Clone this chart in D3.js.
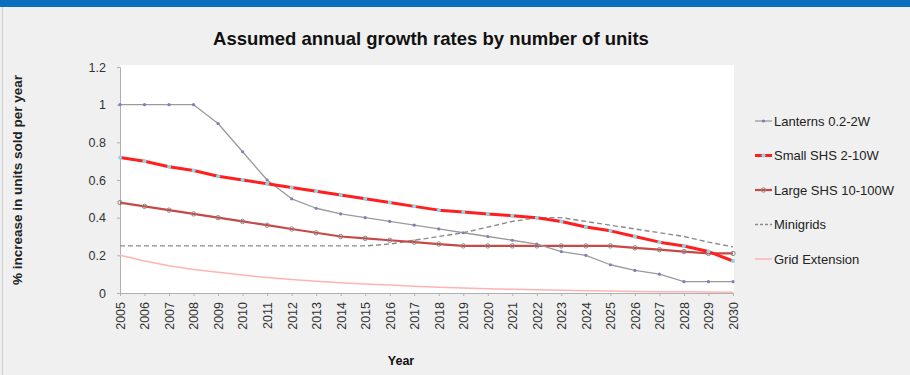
<!DOCTYPE html>
<html><head><meta charset="utf-8">
<script src="https://cdn.jsdelivr.net/npm/d3@7"></script>
<style>
html,body{margin:0;padding:0;background:#f0f0f0;}
svg{display:block;font-family:"Liberation Sans",Arial,Helvetica,sans-serif;}
</style></head>
<body><svg id="c" width="910" height="375"></svg>
<script>
const years = d3.range(2005, 2031);
const lanterns = [1,1,1,1,0.9,0.75,0.6,0.5,0.45,0.42,0.4,0.38,0.36,0.34,0.32,0.3,0.28,0.26,0.22,0.2,0.15,0.12,0.1,0.06,0.06,0.06];
const smallSHS = [0.72,0.7,0.67,0.65,0.62,0.6,0.58,0.56,0.54,0.52,0.5,0.48,0.46,0.44,0.43,0.42,0.41,0.4,0.38,0.35,0.33,0.3,0.27,0.25,0.22,0.17];
const largeSHS = [0.48,0.46,0.44,0.42,0.4,0.38,0.36,0.34,0.32,0.3,0.29,0.28,0.27,0.26,0.25,0.25,0.25,0.25,0.25,0.25,0.25,0.24,0.23,0.22,0.21,0.21];
const minigrids = [0.25,0.25,0.25,0.25,0.25,0.25,0.25,0.25,0.25,0.25,0.25,0.26,0.28,0.3,0.32,0.35,0.38,0.4,0.4,0.38,0.36,0.34,0.32,0.3,0.27,0.245];
const gridExt = [0.2,0.17,0.145,0.125,0.11,0.095,0.082,0.072,0.063,0.055,0.048,0.042,0.036,0.031,0.027,0.023,0.02,0.017,0.014,0.012,0.01,0.008,0.007,0.006,0.005,0.004];
const yTicks = [0,0.2,0.4,0.6,0.8,1,1.2];
const seriesNames = ["Lanterns 0.2-2W","Small SHS 2-10W","Large SHS 10-100W","Minigrids","Grid Extension"];

const series = [
  {name:seriesNames[0], values:lanterns, color:"#9a9a9a", width:1.3, dash:null, marker:{r:1.6, fill:"#8a78b8", stroke:"none"}},
  {name:seriesNames[1], values:smallSHS, color:"#ff1f1f", width:3, dash:null, marker:{r:2, fill:"#8fd6e8", stroke:"none"}},
  {name:seriesNames[2], values:largeSHS, color:"#c84848", width:2.2, dash:null, marker:{r:2.2, fill:"none", stroke:"#8a8a8a"}},
  {name:seriesNames[3], values:minigrids, color:"#8a8a8a", width:1.4, dash:"5,3", marker:null},
  {name:seriesNames[4], values:gridExt, color:"#ffb3b3", width:1.5, dash:null, marker:null}
];

const svg = d3.select("#c");
svg.append("rect").attr("x",0).attr("y",0).attr("width",910).attr("height",7).attr("fill","#0a6fbd");
svg.append("line").attr("x1",2.5).attr("x2",2.5).attr("y1",7).attr("y2",375).attr("stroke","#cfcfcf");

const L=120, R=733, T=67, B=293;
const x = d3.scaleLinear().domain([2005,2030]).range([L,R]);
const y = d3.scaleLinear().domain([0,1.2]).range([B,T]);

svg.append("rect").attr("x",L).attr("y",T-2).attr("width",R-L+1).attr("height",B-T+2).attr("fill","#ffffff");

svg.append("text").attr("x",431).attr("y",45).attr("text-anchor","middle")
  .attr("font-size",18.5).attr("font-weight","bold").attr("fill","#111").text("Assumed annual growth rates by number of units");

const yAxis = svg.append("g").attr("transform",`translate(${L},0)`)
  .call(d3.axisLeft(y).tickValues(yTicks).tickSize(3).tickFormat(d3.format("~g")));
yAxis.select(".domain").attr("stroke","#b0b0b0");
yAxis.selectAll(".tick line").attr("stroke","#b0b0b0");
yAxis.selectAll("text").attr("font-size",12.5).attr("fill","#333").attr("x",-14).attr("font-family","\"Liberation Sans\",Arial,sans-serif");

const xAxis = svg.append("g").attr("transform",`translate(0,${B})`)
  .call(d3.axisBottom(x).tickValues(years).tickSize(3).tickFormat(d3.format("d")));
xAxis.select(".domain").attr("stroke","#b0b0b0");
xAxis.selectAll(".tick line").attr("stroke","#b0b0b0");
xAxis.selectAll("text").attr("font-size",12.5).attr("fill","#333")
  .attr("transform","rotate(-90)").attr("text-anchor","end").attr("x",-9).attr("y",0).attr("dy","0.35em")
  .attr("font-family","\"Liberation Sans\",Arial,sans-serif");

svg.append("text").attr("x",401).attr("y",365).attr("text-anchor","middle").attr("font-size",12.5)
  .attr("font-weight","bold").attr("fill","#111").text("Year");
svg.append("text").attr("transform","translate(22,180) rotate(-90)").attr("text-anchor","middle")
  .attr("font-size",13.5).attr("font-weight","bold").attr("fill","#222").text("% increase in units sold per year");

const line = d3.line().x((d,i)=>x(years[i])).y(d=>y(d));
const order = [4,3,2,0,1];
order.forEach(k=>{
  const s = series[k];
  svg.append("path").datum(s.values).attr("d",line).attr("fill","none")
    .attr("stroke",s.color).attr("stroke-width",s.width).attr("stroke-dasharray",s.dash)
    .attr("stroke-linejoin","round");
  if(s.marker){
    svg.append("g").selectAll("circle").data(s.values).join("circle")
      .attr("cx",(d,i)=>x(years[i])).attr("cy",d=>y(d)).attr("r",s.marker.r)
      .attr("fill",s.marker.fill).attr("stroke",s.marker.stroke).attr("stroke-width",1);
  }
});

const lg = svg.append("g");
series.forEach((s,i)=>{
  const yy = 121 + i*34.5;
  lg.append("line").attr("x1",755).attr("x2",772).attr("y1",yy).attr("y2",yy)
    .attr("stroke",s.color).attr("stroke-width",s.width).attr("stroke-dasharray",s.dash ? "3,2" : null);
  if(s.marker){
    lg.append("circle").attr("cx",763.5).attr("cy",yy).attr("r",s.marker.r)
      .attr("fill",s.marker.fill).attr("stroke",s.marker.stroke);
  }
  lg.append("text").attr("x",774).attr("y",yy).attr("dy","0.35em").attr("font-size",13)
    .attr("fill","#222").text(s.name);
});
</script></body></html>
